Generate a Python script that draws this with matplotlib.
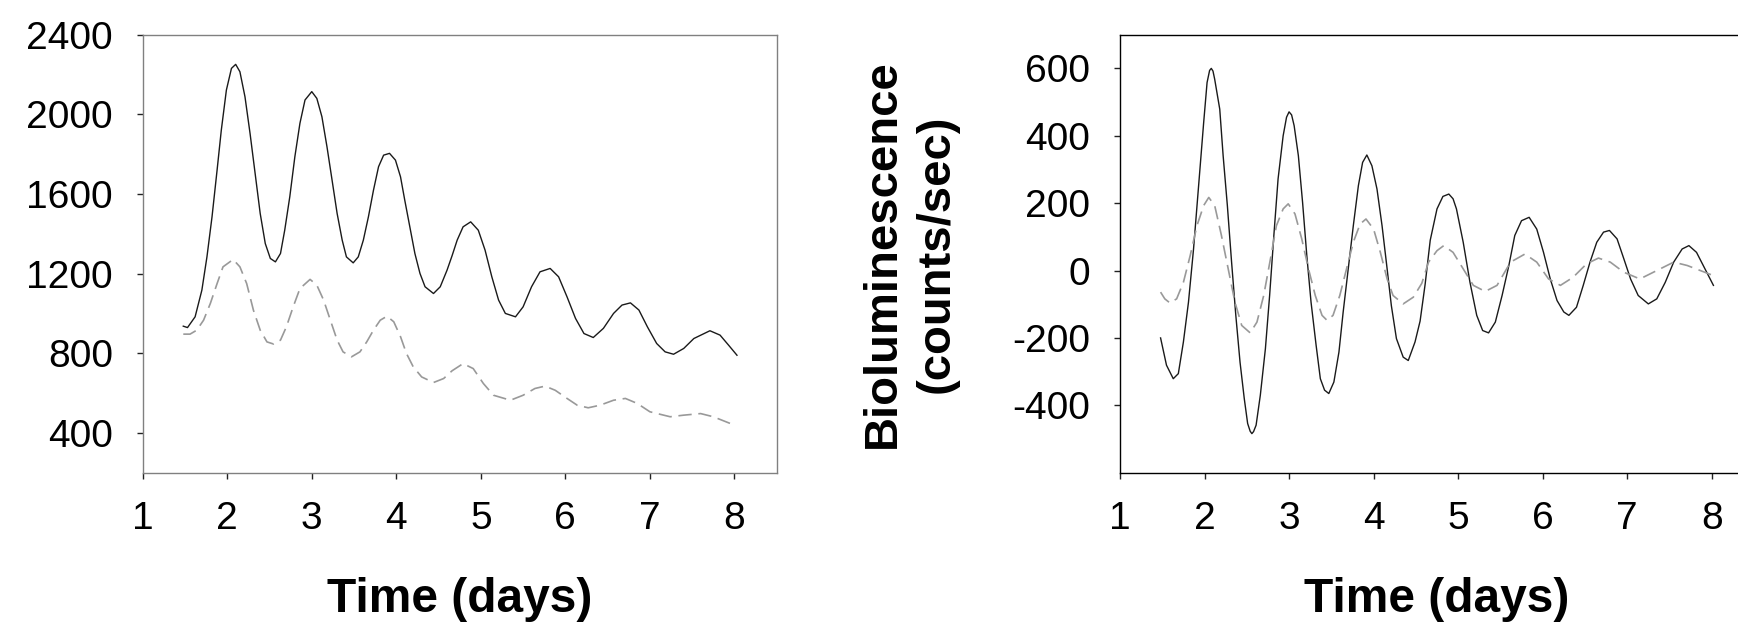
import matplotlib
matplotlib.use('Agg')
import matplotlib.pyplot as plt

plt.rcParams['font.family'] = ['Liberation Sans', 'DejaVu Sans']
plt.rcParams['axes.unicode_minus'] = False

# left panel: raw bioluminescence (counts/sec)
raw_solid_t = [1.48, 1.53, 1.62, 1.70, 1.76, 1.82, 1.88, 1.93, 1.99, 2.05, 2.10, 2.15, 2.21, 2.27,
               2.33, 2.39, 2.45, 2.51, 2.57, 2.63, 2.68, 2.74, 2.80, 2.86, 2.92, 3.00, 3.06, 3.12,
               3.18, 3.24, 3.30, 3.36, 3.41, 3.49, 3.55, 3.61, 3.67, 3.73, 3.79, 3.85, 3.92, 3.99,
               4.05, 4.10, 4.16, 4.22, 4.28, 4.34, 4.44, 4.52, 4.60, 4.66, 4.72, 4.79, 4.88, 4.97,
               5.05, 5.13, 5.21, 5.29, 5.41, 5.50, 5.60, 5.70, 5.82, 5.92, 6.02, 6.12, 6.22, 6.33,
               6.45, 6.57, 6.67, 6.77, 6.87, 6.97, 7.08, 7.18, 7.28, 7.40, 7.52, 7.71, 7.83, 7.93, 8.03]
raw_solid_v = [936, 929, 983, 1117, 1284, 1485, 1720, 1921, 2122, 2231, 2251, 2214, 2088, 1904,
               1703, 1502, 1351, 1276, 1259, 1301, 1418, 1586, 1787, 1955, 2072, 2114, 2080, 1988,
               1837, 1670, 1502, 1368, 1284, 1254, 1284, 1368, 1485, 1619, 1737, 1795, 1804, 1770,
               1686, 1569, 1435, 1301, 1201, 1134, 1100, 1134, 1217, 1290, 1368, 1435, 1460, 1418,
               1318, 1184, 1067, 1000, 983, 1033, 1134, 1209, 1226, 1184, 1083, 975, 899, 879,
               925, 1000, 1042, 1053, 1017, 933, 849, 807, 795, 824, 874, 913, 891, 841, 790]

raw_dash_t = [1.48, 1.56, 1.64, 1.72, 1.80, 1.88, 1.95, 2.07, 2.15, 2.23, 2.31, 2.39, 2.47, 2.55,
              2.63, 2.70, 2.78, 2.86, 2.98, 3.06, 3.14, 3.22, 3.30, 3.37, 3.47, 3.57, 3.65, 3.73,
              3.81, 3.89, 3.97, 4.05, 4.12, 4.20, 4.30, 4.44, 4.56, 4.66, 4.79, 4.91, 5.03, 5.15,
              5.35, 5.50, 5.64, 5.76, 5.88, 6.02, 6.14, 6.27, 6.41, 6.57, 6.71, 6.85, 7.00, 7.24,
              7.40, 7.60, 7.75, 7.97]
raw_dash_v = [896, 896, 916, 966, 1050, 1150, 1234, 1271, 1234, 1150, 1016, 916, 857, 846,
              866, 933, 1033, 1125, 1171, 1142, 1067, 966, 866, 807, 782, 807, 857, 916,
              966, 986, 958, 883, 799, 732, 681, 653, 673, 712, 748, 723, 648, 589,
              564, 589, 623, 635, 614, 573, 539, 526, 539, 564, 573, 548, 506, 481,
              489, 497, 481, 444]

# right panel: detrended bioluminescence
det_solid_t = [1.48, 1.55, 1.63, 1.69, 1.75, 1.81, 1.87, 1.93, 1.99, 2.03, 2.06, 2.08, 2.10, 2.12,
               2.18, 2.22, 2.27, 2.32, 2.37, 2.42, 2.47, 2.51, 2.54, 2.56, 2.58, 2.61, 2.66, 2.72,
               2.77, 2.82, 2.87, 2.93, 2.97, 3.00, 3.03, 3.06, 3.11, 3.16, 3.21, 3.26, 3.32, 3.37,
               3.42, 3.47, 3.53, 3.59, 3.64, 3.70, 3.76, 3.82, 3.87, 3.92, 3.98, 4.04, 4.10, 4.16,
               4.21, 4.27, 4.35, 4.41, 4.49, 4.55, 4.61, 4.67, 4.75, 4.82, 4.89, 4.94, 4.98, 5.06,
               5.14, 5.22, 5.29, 5.36, 5.44, 5.52, 5.60, 5.67, 5.75, 5.84, 5.93, 6.01, 6.09, 6.17,
               6.25, 6.31, 6.40, 6.48, 6.56, 6.64, 6.72, 6.79, 6.88, 6.96, 7.04, 7.13, 7.25, 7.35,
               7.45, 7.55, 7.65, 7.73, 7.82, 7.92, 8.02]
det_solid_v = [-200, -281, -321, -306, -212, -94, 64, 252, 440, 558, 594, 600, 592, 568,
               479, 341, 193, 25, -133, -272, -380, -454, -477, -484, -478, -459, -370, -232,
               -74, 104, 272, 400, 455, 471, 462, 430, 341, 202, 44, -94, -222, -321,
               -355, -365, -331, -242, -123, 5, 133, 252, 321, 343, 311, 242, 133, 5,
               -104, -202, -257, -267, -212, -150, -40, 90, 183, 220, 227, 213, 183, 84,
               -35, -133, -178, -185, -153, -74, 15, 104, 148, 158, 123, 54, -25, -89,
               -123, -133, -109, -44, 25, 84, 114, 119, 94, 35, -25, -74, -99, -84,
               -35, 25, 64, 74, 54, 5, -44]

det_dash_t = [1.48, 1.53, 1.59, 1.67, 1.75, 1.83, 1.91, 1.99, 2.05, 2.12, 2.20, 2.28, 2.36, 2.44,
              2.54, 2.62, 2.70, 2.78, 2.85, 2.93, 2.99, 3.07, 3.15, 3.23, 3.31, 3.39, 3.45, 3.52,
              3.60, 3.68, 3.76, 3.84, 3.91, 4.00, 4.08, 4.16, 4.23, 4.35, 4.47, 4.57, 4.65, 4.75,
              4.83, 4.94, 5.06, 5.18, 5.32, 5.46, 5.62, 5.79, 5.93, 6.07, 6.21, 6.36, 6.52, 6.66,
              6.80, 6.96, 7.15, 7.31, 7.55, 7.71, 8.02]
det_dash_v = [-64, -84, -96, -84, -35, 44, 133, 193, 217, 193, 104, 5, -94, -163,
              -185, -153, -74, 35, 133, 183, 198, 168, 94, 5, -74, -133, -148, -133,
              -74, 5, 84, 138, 153, 123, 54, -25, -74, -99, -79, -38, 25, 59,
              74, 54, 5, -44, -62, -44, 25, 49, 25, -25, -44, -20, 20, 37,
              25, -5, -25, -5, 25, 15, -15]

x_ticks = [1, 2, 3, 4, 5, 6, 7, 8]
raw_ticks = [400, 800, 1200, 1600, 2000, 2400]
det_ticks = [-400, -200, 0, 200, 400, 600]

W, H = 1738, 624
fig = plt.figure(figsize=(W / 100, H / 100), dpi=100)

ax1 = fig.add_axes([142.7 / W, 1 - 472.7 / H, 634 / W, 438 / H])
ax2 = fig.add_axes([1120 / W, 1 - 472.7 / H, 634 / W, 438 / H])

solid_kw = dict(color='#1a1a1a', lw=1.0)
dash_kw = dict(color='#999999', lw=1.2, linestyle=(0, (8, 4)))

ax1.plot(raw_solid_t, raw_solid_v, **solid_kw)
ax1.plot(raw_dash_t, raw_dash_v, **dash_kw)
ax1.set_ylim(200, 2400)
ax1.set_yticks(raw_ticks)

ax2.plot(det_solid_t, det_solid_v, **solid_kw)
ax2.plot(det_dash_t, det_dash_v, **dash_kw)
ax2.set_ylim(-600, 700)
ax2.set_yticks(det_ticks)

for ax, spine_col in ((ax1, '#808080'), (ax2, '#000000')):
    ax.set_xlim(1, 8.5)
    ax.set_xticks(x_ticks)
    for s in ax.spines.values():
        s.set_color(spine_col)
        s.set_linewidth(1.0)
    ax.tick_params(axis='y', direction='out', length=4.5, width=1, color='#222222',
                   labelsize=28, pad=17)
    ax.tick_params(axis='x', direction='out', length=4.5, width=1, color='#222222',
                   labelsize=28, pad=16)

# axis titles placed in figure pixels
fig.text(459.7 / W, 1 - 612 / H, 'Time (days)', fontsize=34.5, fontweight='bold',
         ha='center', va='baseline')
fig.text(1437 / W, 1 - 612 / H, 'Time (days)', fontsize=34.5, fontweight='bold',
         ha='center', va='baseline')
fig.text(910 / W, 1 - 254 / H, 'Bioluminescence\n(counts/sec)', fontsize=34,
         fontweight='bold', rotation=90, ha='center', va='center',
         multialignment='center', linespacing=1.3)

fig.savefig('out.png', dpi=100)
